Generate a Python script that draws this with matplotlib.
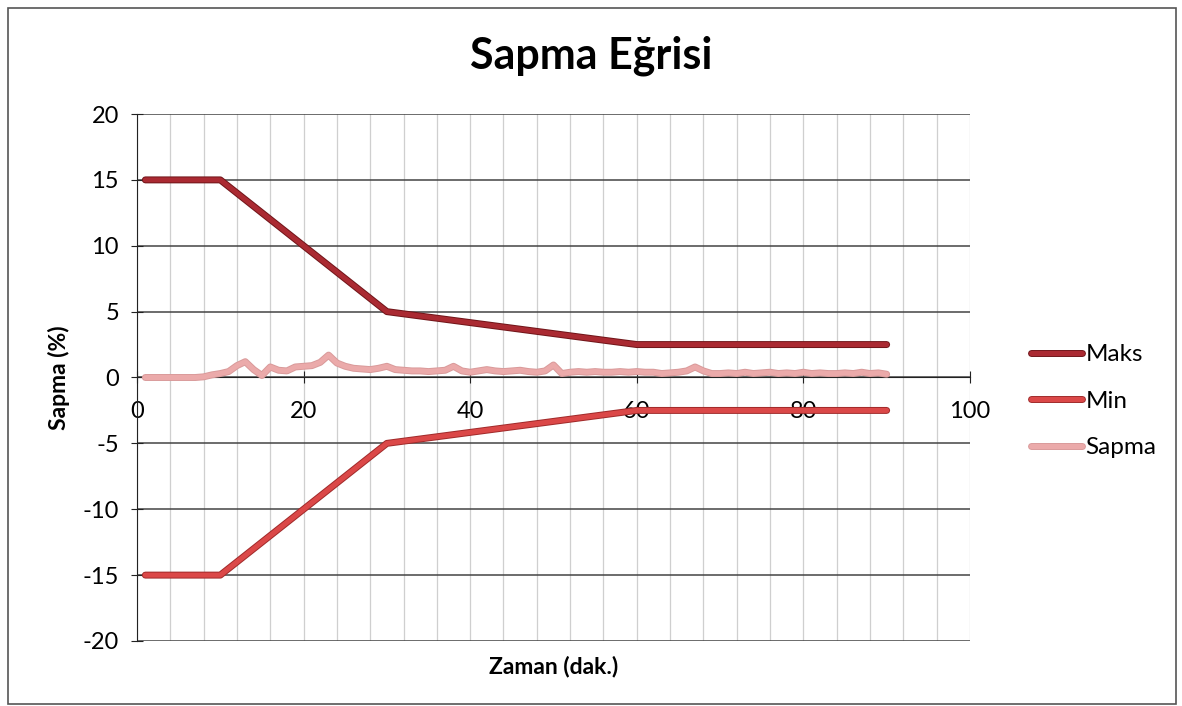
import numpy as np
import matplotlib
matplotlib.use("Agg")
from matplotlib import pyplot as plt
from matplotlib import patheffects as pe
from matplotlib.patches import Rectangle

plt.rcParams['font.family'] = ['Lato', 'DejaVu Sans']
plt.rcParams['axes.unicode_minus'] = False

# limit curves (breakpoints, minutes -> %)
limit_t = [1, 10, 30, 60, 90]
maks = [15, 15, 5, 2.5, 2.5]
min_ = [-15, -15, -5, -2.5, -2.5]

# measured deviation, one value per minute (1..90)
sapma_t = list(range(1, 91))
sapma = [0, 0, 0, 0, 0, 0, 0, 0.05, 0.2, 0.3,
         0.45, 0.9, 1.2, 0.6, 0.15, 0.8, 0.55, 0.5, 0.8, 0.85,
         0.9, 1.15, 1.7, 1.1, 0.85, 0.7, 0.65, 0.6, 0.7, 0.85,
         0.6, 0.55, 0.5, 0.5, 0.45, 0.5, 0.55, 0.85, 0.5, 0.4,
         0.5, 0.6, 0.5, 0.45, 0.5, 0.55, 0.45, 0.4, 0.5, 0.95,
         0.3, 0.4, 0.45, 0.4, 0.45, 0.4, 0.4, 0.45, 0.4, 0.45,
         0.4, 0.4, 0.3, 0.35, 0.4, 0.5, 0.8, 0.5, 0.3, 0.3,
         0.35, 0.3, 0.4, 0.3, 0.35, 0.4, 0.3, 0.35, 0.3, 0.4,
         0.3, 0.35, 0.3, 0.3, 0.35, 0.3, 0.4, 0.3, 0.35, 0.25]

fig = plt.figure(figsize=(11.82, 7.06), dpi=100)
ax = fig.add_axes([0.1159, 0.0921, 0.7047, 0.7464])

# outer chart border
fig.patches.append(Rectangle((8 / 1182, 2 / 706), 1168 / 1182, 696 / 706,
                             transform=fig.transFigure, fill=False,
                             edgecolor='#555555', linewidth=1.2))

ax.plot(limit_t, maks, color='#AA2A32', lw=3.6, solid_capstyle='round',
        label='Maks', zorder=4,
        path_effects=[pe.Stroke(linewidth=5, foreground='#701519'), pe.Normal()])
ax.plot(limit_t, min_, color='#DB4848', lw=3.6, solid_capstyle='round',
        label='Min', zorder=4,
        path_effects=[pe.Stroke(linewidth=5, foreground='#A02A2A'), pe.Normal()])
ax.plot(sapma_t, sapma, color='#EBAAAA', lw=3.6, solid_capstyle='round',
        label='Sapma', zorder=3,
        path_effects=[pe.Stroke(linewidth=5, foreground='#D99A9A'), pe.Normal()])

ax.set_xlim(0, 100)
ax.set_ylim(-20, 20)
ax.set_xticks(range(0, 101, 20))
ax.set_xticks(range(0, 101, 4), minor=True)
ax.set_yticks(range(-20, 21, 5))
ax.grid(which='minor', axis='x', color='#CFCFCF', lw=0.9)
ax.grid(which='major', axis='x', color='#CFCFCF', lw=0.9)
ax.grid(which='major', axis='y', color='#444444', lw=1.1)
ax.set_axisbelow(True)

for s in ['top', 'right']:
    ax.spines[s].set_visible(False)
ax.spines['bottom'].set_position(('data', 0))
ax.spines['bottom'].set_color('#222222')
ax.spines['left'].set_color('#222222')
ax.tick_params(axis='x', which='major', direction='inout', length=8,
               labelsize=17, pad=13, color='#222222')
ax.tick_params(axis='x', which='minor', length=0)
ax.tick_params(axis='y', direction='inout', length=8, labelsize=17,
               pad=9, color='#222222')

ax.set_xlabel('Zaman (dak.)', fontsize=16.5, fontweight='bold')
ax.xaxis.set_label_coords(0.5, -0.028)
ax.set_ylabel('Sapma (%)', fontsize=16.5, fontweight='bold')
ax.yaxis.set_label_coords(-0.08, 0.5)

fig.text(0.5, 0.921, 'Sapma Eğrisi', ha='center', va='center',
         fontsize=31, fontweight='bold')

ax.legend(loc='center left', bbox_to_anchor=(1.047, 0.455), frameon=False,
          fontsize=17.5, handlelength=2.1, handletextpad=0.15, labelspacing=1.05)

fig.savefig('out.png', dpi=100)
